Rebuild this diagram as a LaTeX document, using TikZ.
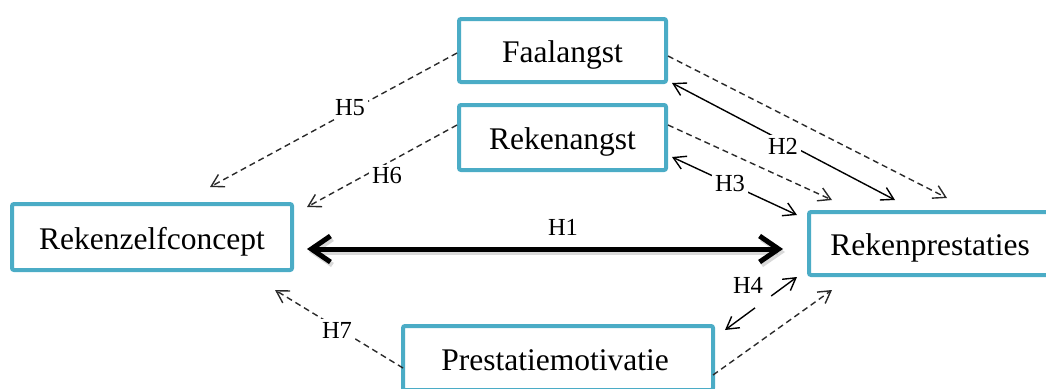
\documentclass[tikz,border=0pt]{standalone}
\usepackage{fontspec}
\setmainfont{Liberation Serif}
\usetikzlibrary{arrows.meta}
\definecolor{boxteal}{HTML}{4BACC6}
\definecolor{dashgray}{HTML}{2A2A2A}
\begin{document}
\begin{tikzpicture}[x=1pt,y=-1pt,
  box/.style={draw=boxteal, line width=4pt, rounded corners=2pt, fill=white, inner sep=0pt,
    font=\fontsize{31.5}{36}\selectfont, text height=24pt, text depth=0pt},
  lab/.style={fill=white, inner sep=3pt, font=\fontsize{24.5}{28}\selectfont},
  barb/.tip={Straight Barb[length=12pt,width=14pt]},
  dsh/.style={draw=dashgray, line width=1.4pt, dash pattern=on 6pt off 4pt, -barb},
  sol/.style={draw=black, line width=1.4pt, barb-barb},
  bold/.style={draw=black, line width=5pt, {Straight Barb[length=19pt,width=26pt]}-{Straight Barb[length=19pt,width=26pt]}},
]
\useasboundingbox (0,0) rectangle (1046,388);
\clip (0,0) rectangle (1046,388);

% boxes
\node[box, minimum width=207pt, minimum height=63pt] (fa) at (562.5,50.5) {Faalangst};
\node[box, minimum width=207pt, minimum height=65pt] (ra) at (562.5,137.5) {Rekenangst};
\node[box, minimum width=280pt, minimum height=66pt] (zc) at (152,237) {Rekenzelfconcept};
\node[box, minimum width=250pt, minimum height=63pt] (rp) at (934,243.5) {\hspace*{-8pt}Rekenprestaties};
\node[box, minimum width=310pt, minimum height=64pt] (pm) at (558,358) {\hspace*{-6pt}Prestatiemotivatie};

% connector end points
\coordinate (faH5) at (457,53);
\coordinate (zcH5) at (210,187);
\coordinate (raH6) at (457,125);
\coordinate (zcH6) at (307,207);
\coordinate (pmH7) at (403,368);
\coordinate (zcH7) at (275,290);
\coordinate (faD) at (668,56);
\coordinate (rpFa) at (947,198);
\coordinate (raD) at (668,125);
\coordinate (rpRa) at (832,200);
\coordinate (faH2) at (672,83);
\coordinate (rpH2) at (895,200);
\coordinate (raH3) at (672,157);
\coordinate (rpH3) at (797,215);
\coordinate (rpH4) at (797,277);
\coordinate (pmH4) at (725,330);
\coordinate (pmD) at (713,375);
\coordinate (rpPm) at (832,290);
\coordinate (zcH1) at (307,249);
\coordinate (rpH1) at (783,249);

% dashed connectors
\draw[dsh] (faH5) -- (zcH5);
\draw[dsh] (raH6) -- (zcH6);
\draw[dsh] (pmH7) -- (zcH7);
\draw[dsh] (faD) -- (rpFa);
\draw[dsh] (raD) -- (rpRa);
\draw[dsh] (pmD) -- (rpPm);

% solid double connectors
\draw[sol] (faH2) -- (rpH2);
\draw[sol] (raH3) -- (rpH3);
\draw[sol, dash pattern=on 30pt off 20pt on 100pt] (rpH4) -- (pmH4);

% H1 with shadow
\draw[bold, draw=black!25, opacity=0.6] ([shift={(2,3)}]zcH1) -- ([shift={(2,3)}]rpH1);
\draw[bold] (zcH1) -- (rpH1);

% labels
\node[lab] (l5) at (350,108) {H5};
\node[lab] (l6) at (387,176) {H6};
\node[lab] (l7) at (337,330) {H7};
\node[lab] (l1) at (563,227) {H1};
\node[lab] (l2) at (783,146) {H2};
\node[lab] (l3) at (730,184) {H3};
\node[lab, fill=none] (l4) at (748,285) {H4};
\end{tikzpicture}
\end{document}
